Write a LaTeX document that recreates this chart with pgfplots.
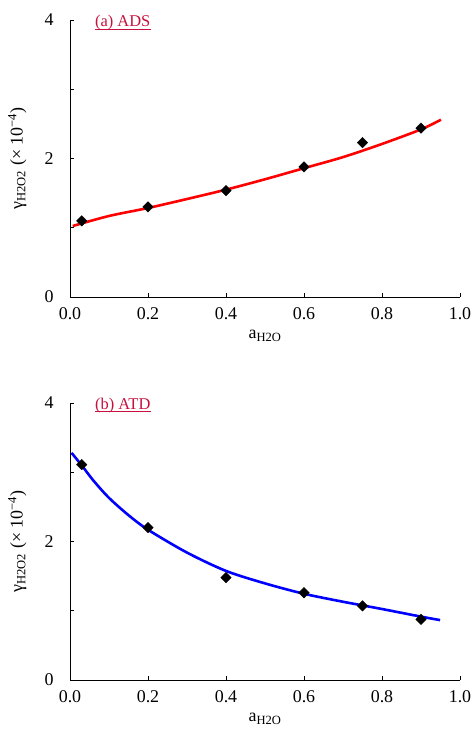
\documentclass[border=0pt]{standalone}
\usepackage{fontspec}
\setmainfont{Liberation Serif}
\usepackage{pgfplots}
\pgfplotsset{compat=1.18}
\definecolor{tcrim}{RGB}{200,16,60}

\pgfplotsset{
  panel/.style={
    scale only axis, width=390bp, height=277bp,
    xmin=0, xmax=1, ymin=0, ymax=4,
    axis x line*=bottom, axis y line*=left,
    axis line style={black, line width=0.9bp},
    tick align=inside, major tick length=4bp, minor tick length=4bp,
    tick style={black, line width=0.8bp},
    xtick={0,0.2,0.4,0.6,0.8,1},
    xticklabels={0.0,0.2,0.4,0.6,0.8,1.0},
    ytick={0,2,4}, minor ytick={1,3},
    /pgf/number format/assume math mode=true,
    xticklabel style={yshift=-7bp},
    yticklabel style={xshift=-13bp},
    xlabel={a\textsubscript{H2O}},
    ylabel={γ\textsubscript{H2O2} (× 10\textsuperscript{−4})},
    xlabel style={at={(axis description cs:0.5,-0.14)}, anchor=center},
    ylabel style={at={(axis description cs:-0.135,0.5)}, anchor=center},
    clip=false,
  },
  pts/.style={only marks, mark=square*, mark size=3.7bp, black,
    every mark/.append style={rotate=45}},
}
\tikzset{ttl/.style={anchor=base west, inner sep=0pt, text=tcrim,
    font=\fontsize{16.5}{19}\selectfont}}

\begin{document}
\begin{tikzpicture}[font=\fontsize{18}{21}\selectfont]
\useasboundingbox (0,0) rectangle (472bp,745bp);

% (a) ADS
\begin{axis}[panel, at={(70bp,448bp)}, anchor=south west]
\addplot[red, line width=2.6bp, smooth] coordinates {
  (0.007,1.025) (0.1,1.17) (0.2,1.285) (0.3,1.415) (0.4,1.55) (0.5,1.70)
  (0.6,1.86) (0.7,2.02) (0.8,2.21) (0.9,2.42) (0.951,2.56)
};
\addplot[pts] coordinates {
  (0.03,1.10) (0.2,1.30) (0.4,1.535) (0.6,1.88) (0.75,2.23) (0.9,2.44)
};
\node[ttl] (ta) at (axis description cs:0.064,0.975) {(a) ADS};
\draw[tcrim, line width=0.7bp] ([yshift=-2.2bp]ta.base west) -- ([yshift=-2.2bp]ta.base east);
\end{axis}

% (b) ATD
\begin{axis}[panel, at={(70bp,65bp)}, anchor=south west]
\addplot[blue, line width=2.6bp, smooth] coordinates {
  (0.004,3.28) (0.03,3.10) (0.06,2.88) (0.1,2.63) (0.15,2.38) (0.2,2.17)
  (0.3,1.84) (0.4,1.575) (0.5,1.395) (0.6,1.245) (0.7,1.13) (0.8,1.025)
  (0.9,0.915) (0.949,0.865)
};
\addplot[pts] coordinates {
  (0.03,3.11) (0.2,2.20) (0.4,1.477) (0.6,1.26) (0.75,1.07) (0.9,0.876)
};
\node[ttl] (tb) at (axis description cs:0.064,0.978) {(b) ATD};
\draw[tcrim, line width=0.7bp] ([yshift=-2.2bp]tb.base west) -- ([yshift=-2.2bp]tb.base east);
\end{axis}
\end{tikzpicture}
\end{document}
